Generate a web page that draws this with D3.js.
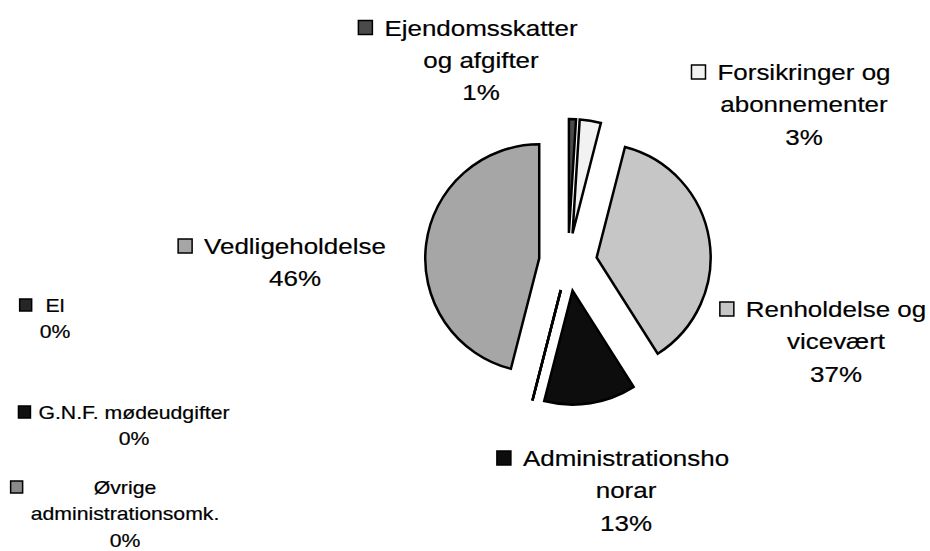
<!DOCTYPE html>
<html>
<head>
<meta charset="utf-8">
<script src="https://cdn.jsdelivr.net/npm/d3@7"></script>
<style>
  html, body { margin: 0; padding: 0; background: #fff; }
  svg { display: block; }
  .lbl text { font-family: "Liberation Sans", Arial, sans-serif; fill: #000; stroke: #000; stroke-width: 0.2px; }
</style>
</head>
<body>
<div id="pie_chart"></div>
<script>
// Data
const categories = [
  'Ejendomsskatter og afgifter',
  'Forsikringer og abonnementer',
  'Renholdelse og vicevært',
  'Administrationshonorar',
  'El',
  'G.N.F. mødeudgifter',
  'Øvrige administrationsomk.',
  'Vedligeholdelse'
]
const values = [1, 3, 37, 13, 0, 0, 0, 46]
// Label text as it wraps in the picture
const labelLines = [
  ['Ejendomsskatter', 'og afgifter'],
  ['Forsikringer og', 'abonnementer'],
  ['Renholdelse og', 'vicevært'],
  ['Administrationsho', 'norar'],
  ['El'],
  ['G.N.F. mødeudgifter'],
  ['Øvrige', 'administrationsomk.'],
  ['Vedligeholdelse']
]

// Layout (kept apart from the data)
const width = 930
const height = 551
const center = { x: 568, y: 262 }
const radius = 114
const explode = 29
const fills = ['#4a4a4a', '#f2f2f2', '#c6c6c6', '#0d0d0d', '#262626', '#111111', '#8a8a8a', '#a6a6a6']
// label anchor: centre x, first baseline, big/small text
const labelPos = [
  { x: 481, y: 35.5, big: true },
  { x: 804, y: 80, big: true },
  { x: 836, y: 317, big: true },
  { x: 626, y: 466, big: true },
  { x: 55, y: 312, big: false },
  { x: 134, y: 419, big: false },
  { x: 125, y: 494, big: false },
  { x: 295, y: 254, big: true }
]
const stretch = 1.18

const color = d3.scaleOrdinal(categories, fills)

const svg = d3.select('#pie_chart')
  .append('svg')
  .attr('width', width)
  .attr('height', height)
  .attr('viewBox', `0 0 ${width} ${height}`)

svg.append('rect').attr('width', width).attr('height', height).attr('fill', '#fff')

const pie = d3.pie().sort(null).value(d => d.value)
const arcs = pie(categories.map((c, i) => ({ name: c, value: values[i] })))

const arc = d3.arc().innerRadius(0).outerRadius(radius)

// Exploded slices
const g = svg.append('g')
  .attr('transform', `translate(${center.x}, ${center.y})`)

g.selectAll('path.slice')
  .data(arcs)
  .join('path')
  .attr('class', 'slice')
  .attr('transform', d => {
    const a = (d.startAngle + d.endAngle) / 2
    return `translate(${explode * Math.sin(a)}, ${-explode * Math.cos(a)})`
  })
  .attr('d', arc)
  .attr('fill', d => color(d.data.name))
  .attr('stroke', '#000')
  .attr('stroke-width', 2.5)
  .attr('stroke-linejoin', 'miter')

// Data labels with legend key
arcs.forEach((d, i) => {
  const pos = labelPos[i]
  const size = pos.big ? 22 : 18
  const lineH = pos.big ? 32.5 : 26.5
  const keySize = pos.big ? 14 : 12
  const lines = labelLines[i].concat([`${d.value}%`])

  const lg = svg.append('g')
    .attr('class', 'lbl')
    .attr('transform', `translate(${pos.x}, ${pos.y})`)

  const tg = lg.append('g').attr('transform', `scale(${stretch}, 1)`)
  const texts = tg.selectAll('text')
    .data(lines)
    .join('text')
    .attr('x', 0)
    .attr('y', (t, j) => j * lineH)
    .attr('text-anchor', 'middle')
    .attr('font-size', size)
    .text(t => t)

  let maxW = 0
  texts.each(function () { maxW = Math.max(maxW, this.getComputedTextLength()) })
  maxW *= stretch

  const gap = pos.big ? 12 : 8
  lg.append('rect')
    .attr('x', -maxW / 2 - gap - keySize)
    .attr('y', -keySize - 1)
    .attr('width', keySize)
    .attr('height', keySize)
    .attr('fill', color(d.data.name))
    .attr('stroke', '#000')
    .attr('stroke-width', 1.5)
})
</script>
</body>
</html>
